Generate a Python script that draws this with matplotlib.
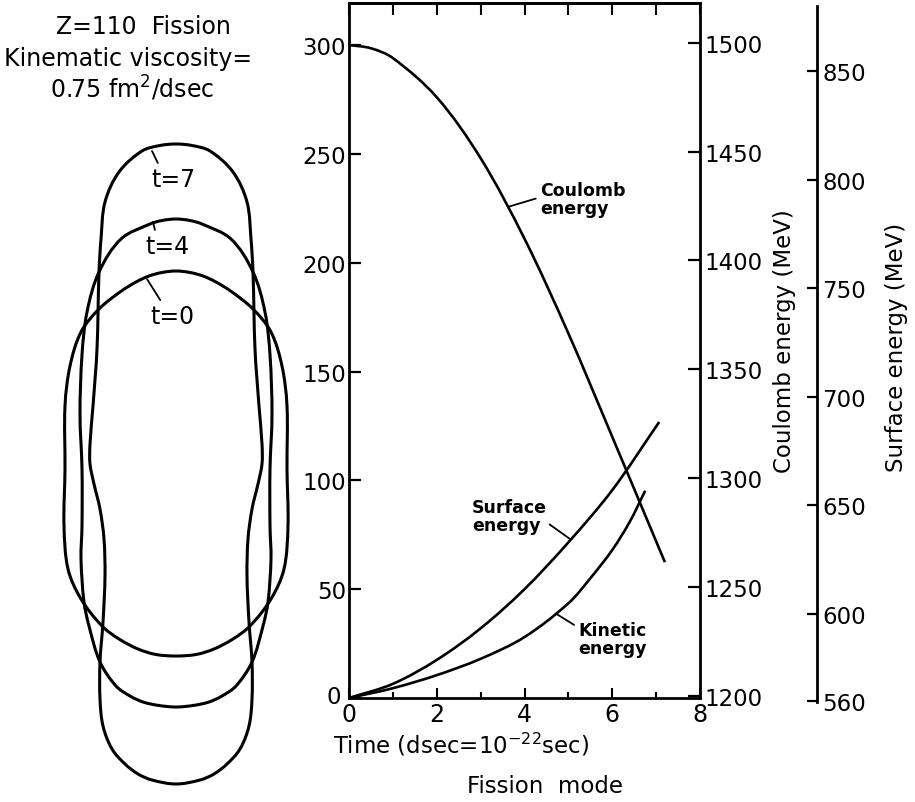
import numpy as np
import matplotlib
matplotlib.use("Agg")
import matplotlib.pyplot as plt
from matplotlib.path import Path
from matplotlib.patches import PathPatch

plt.rcParams['font.family'] = ['DejaVu Sans']
plt.rcParams['mathtext.fontset'] = 'dejavusans'

# energy curves (time in dsec, energy in MeV relative to axis base)
coulomb_t = [0, 0.5, 1, 2, 3, 4, 5, 6, 7, 7.2]
coulomb_e = [300, 298.5, 294, 276, 248, 211, 167.5, 120, 72, 62.4]
surface_t = [0, 1, 2, 3, 4, 5, 6, 7.07]
surface_e = [0, 6.5, 17.5, 32, 50, 71.5, 95.5, 126.8]
kinetic_t = [0, 1, 2, 3, 4, 5, 5.5, 6, 6.4, 6.75]
kinetic_e = [0, 4.5, 10.5, 18, 28, 43.5, 55, 68, 81, 95.2]

left_ticks = [0, 50, 100, 150, 200, 250, 300]
coulomb_ticks = [1200, 1250, 1300, 1350, 1400, 1450, 1500]
surface_ticks = [560, 600, 650, 700, 750, 800, 850]

# nuclear shape profiles: height z along the fission axis and half-width rho
shape_t0_z = [193, 191.5, 188, 182, 172, 155, 132, 98, 58, -5, -62, -105, -135, -162, -175, -185, -190.5, -192]
shape_t0_rho = [0, 14, 27, 40, 56, 77, 95, 106, 111, 111, 112, 108, 95, 74, 57, 38, 20, 0]
shape_t4_z = [245, 243.5, 240, 225, 192, 152, 109, 50, -5, -62, -95, -138, -162, -198, -222, -232, -238, -241.5, -243]
shape_t4_rho = [0, 14, 26, 55, 77, 89, 94, 96, 94, 94, 95, 92, 87, 76, 60, 46, 33, 17, 0]
shape_t7_z = [320, 318.5, 313, 292, 262, 225, 192, 115, 58, 20, 0, -20, -45, -75, -112, -158, -198,
              -235, -262, -285, -300, -310, -316, -320]
shape_t7_rho = [0, 16, 34, 57, 71, 75, 77, 79, 83, 86, 86, 82, 76, 72, 71, 73, 76,
                76, 73, 64, 51, 38, 24, 0]

W, H = 915, 803


def smooth_path(x, y, sx=1.0, sy=1.0, closed=False):
    """Bezier path through the given points (tangents from neighbours)."""
    P = np.column_stack([np.asarray(x, float) * sx, np.asarray(y, float) * sy])
    if closed:
        T = np.roll(P, -1, 0) - np.roll(P, 1, 0)
    else:
        T = np.empty_like(P)
        T[1:-1] = P[2:] - P[:-2]
        T[0] = P[1] - P[0]
        T[-1] = P[-1] - P[-2]
    T = T / np.linalg.norm(T, axis=1)[:, None]
    n = len(P)
    segs = n if closed else n - 1
    verts = [P[0]]
    codes = [Path.MOVETO]
    for i in range(segs):
        j = (i + 1) % n
        d = np.linalg.norm(P[j] - P[i])
        verts += [P[i] + T[i] * d / 3, P[j] - T[j] * d / 3, P[j]]
        codes += [Path.CURVE4] * 3
    verts = np.array(verts) / [sx, sy]
    return Path(verts, codes)


fig = plt.figure(figsize=(W / 100, H / 100), dpi=100)

# ---- main energy plot
ax = fig.add_axes([349 / W, 1 - 699 / H, 351 / W, 695 / H])
ax.set_xlim(0, 8)
ax.set_ylim(0, 319.3)
sx, sy = 351 / 8, 695 / 319.3
for t, e in [(coulomb_t, coulomb_e), (surface_t, surface_e), (kinetic_t, kinetic_e)]:
    ax.add_patch(PathPatch(smooth_path(t, e, sx, sy), fill=False, lw=1.9,
                           edgecolor='black', capstyle='butt'))
for s in ax.spines.values():
    s.set_linewidth(2)

ax.set_xticks([0, 2, 4, 6, 8])
ax.set_xticks([1, 3, 5, 7], minor=True)
ax.set_yticks(left_ticks)
ax.set_yticklabels([''] + [str(v) for v in left_ticks[1:]])
ax.tick_params(axis='x', which='major', direction='in', length=7, width=1.5, labelsize=17, pad=3)
ax.tick_params(axis='x', which='minor', direction='in', length=4, width=1.5)
ax.tick_params(axis='y', direction='in', length=8.5, width=1.6, labelsize=16.5, pad=2)
# the zero of the energy scale sits just left of the time zero
ax.annotate('0', xy=(0, 0), xytext=(-6, 1), textcoords='offset points',
            ha='right', va='center', fontsize=16.5)

top = ax.secondary_xaxis('top')
top.set_xticks(range(9))
top.set_xticklabels([])
top.tick_params(direction='in', length=8.5, width=1.5)
top.spines['top'].set_linewidth(2)

ax2 = ax.twinx()
ax2.set_ylim(1199, 1199 + 319.3)
ax2.set_yticks(coulomb_ticks)
ax2.tick_params(axis='y', direction='in', length=8.5, width=1.6, labelsize=16.5, pad=3)
for s in ax2.spines.values():
    s.set_visible(False)

# ---- separate surface energy scale
ax3 = fig.add_axes([807 / W, 1 - 703 / H, 10 / W, 696 / H])
ax3.patch.set_visible(False)
ax3.set_xticks([])
ax3.set_ylim(559.5, 879.9)
ax3.yaxis.tick_right()
ax3.set_yticks(surface_ticks)
ax3.tick_params(axis='y', direction='in', length=7, width=1.6, labelsize=16.5, pad=4)
for k in ['left', 'top', 'bottom']:
    ax3.spines[k].set_visible(False)
ax3.spines['right'].set_linewidth(2)

fig.text(785 / W, 1 - 341 / H, 'Coulomb energy (MeV)', rotation=90, ha='center', va='center', fontsize=16.5)
fig.text(897 / W, 1 - 347 / H, 'Surface energy (MeV)', rotation=90, ha='center', va='center', fontsize=16.5)
fig.text(461 / W, 1 - 745 / H, 'Time (dsec=10$^{-22}$sec)', ha='center', va='center', fontsize=16.5)
fig.text(545 / W, 1 - 787 / H, 'Fission  mode', ha='center', va='center', fontsize=16.5)

# curve labels
lab = dict(fontsize=12.5, fontweight='bold', ha='left', va='center', linespacing=0.95)
ax.annotate('Coulomb\nenergy', xy=(3.62, 225.6), xytext=(4.35, 229.2),
            arrowprops=dict(arrowstyle='-', lw=1.3, color='black', relpos=(0, 0.55), shrinkA=1, shrinkB=0), **lab)
ax.annotate('Surface\nenergy', xy=(5.04, 73.0), xytext=(2.80, 83.6),
            arrowprops=dict(arrowstyle='-', lw=1.3, color='black', relpos=(0.92, 0.44), shrinkA=0, shrinkB=0), **lab)
ax.annotate('Kinetic\nenergy', xy=(4.73, 38.6), xytext=(5.22, 27.1),
            arrowprops=dict(arrowstyle='-', lw=1.3, color='black', relpos=(0, 0.83), shrinkA=1, shrinkB=0), **lab)

# ---- nuclear shapes
axs = fig.add_axes([0, 0, 349 / W, 1])
axs.set_xlim(-176, 173)
axs.set_ylim(465 - 803, 465)
axs.axis('off')
for z, rho in [(shape_t0_z, shape_t0_rho), (shape_t4_z, shape_t4_rho), (shape_t7_z, shape_t7_rho)]:
    z = np.array(z, dtype=float)
    rho = np.array(rho, dtype=float)
    # left side top->bottom, then right side bottom->top (apex points not repeated)
    xs = np.concatenate([-rho, rho[-2:0:-1]])
    zs = np.concatenate([z, z[-2:0:-1]])
    axs.add_patch(PathPatch(smooth_path(xs, zs, closed=True), fill=False, lw=2.2, edgecolor='black'))

tl = dict(fontsize=17, ha='center', va='center')
axs.annotate('t=7', xy=(-24, 313), xytext=(-3, 285),
             arrowprops=dict(arrowstyle='-', lw=1.3, color='black', relpos=(0.2, 1.0), shrinkA=1, shrinkB=0), **tl)
axs.annotate('t=4', xy=(-23, 242), xytext=(-9, 218),
             arrowprops=dict(arrowstyle='-', lw=1.3, color='black', relpos=(0.25, 1.0), shrinkA=1, shrinkB=0), **tl)
axs.annotate('t=0', xy=(-29, 185), xytext=(-4, 148),
             arrowprops=dict(arrowstyle='-', lw=1.3, color='black', relpos=(0.29, 1.0), shrinkA=1, shrinkB=0), **tl)

fig.text(143 / W, 1 - 27 / H, 'Z=110  Fission', ha='center', va='center', fontsize=17)
fig.text(128 / W, 1 - 59 / H, 'Kinematic viscosity=', ha='center', va='center', fontsize=17)
fig.text(132 / W, 1 - 88 / H, '0.75 fm$^2$/dsec', ha='center', va='center', fontsize=17)

fig.savefig('out.png', dpi=100)
